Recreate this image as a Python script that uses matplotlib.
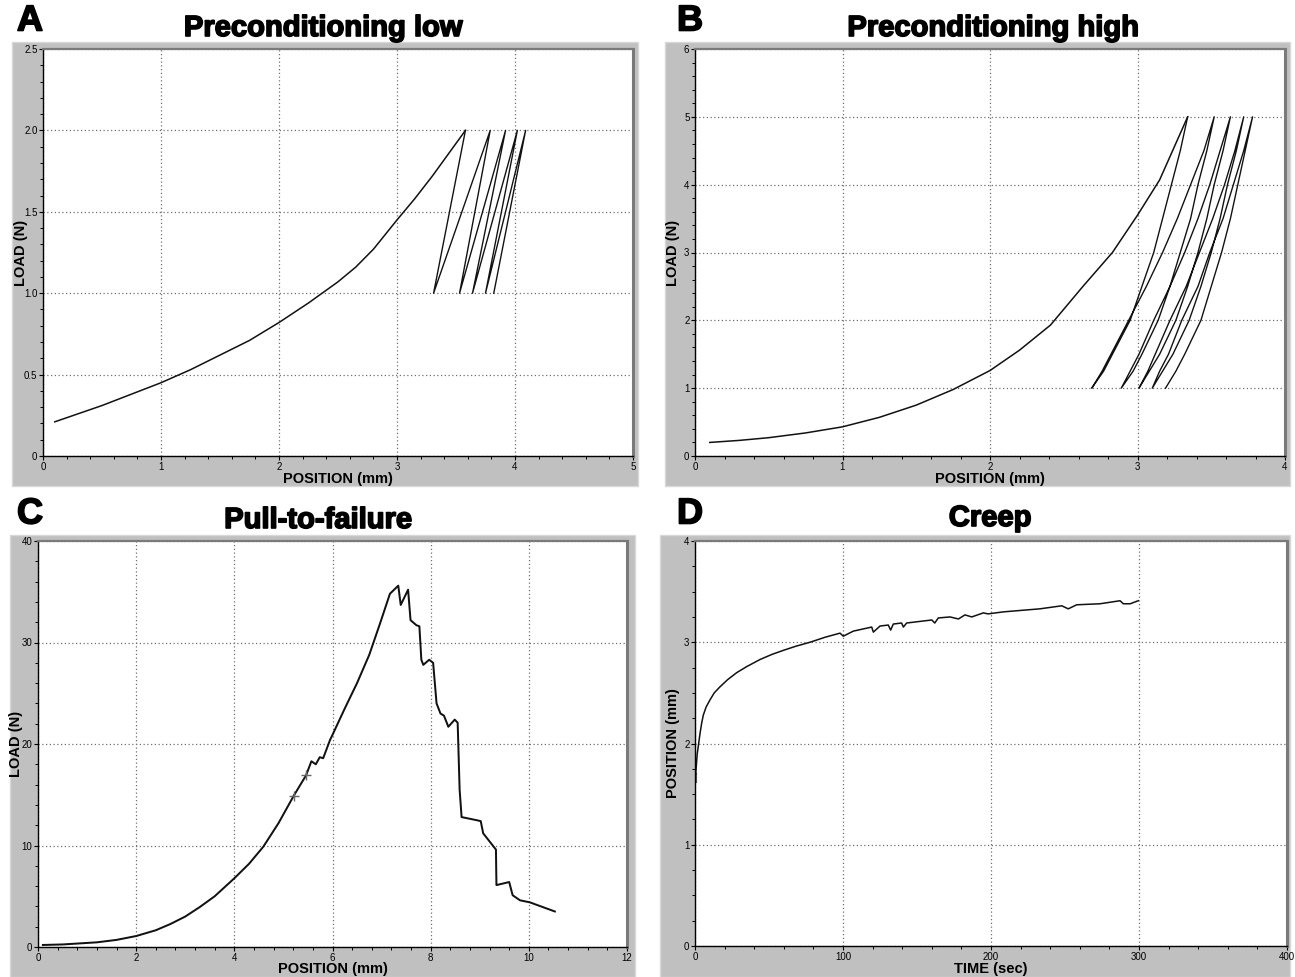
import numpy as np
import matplotlib.pyplot as plt
import matplotlib.patheffects as pe
from matplotlib.patches import Rectangle
from matplotlib.ticker import MultipleLocator

plt.rcParams['font.family'] = ['Liberation Sans', 'DejaVu Sans']

# %%
# A: preconditioning low - initial loading, then load/unload cycles between 1 and 2 N
a_load_x = [0.10, 0.30, 0.50, 0.75, 1.00, 1.25, 1.50, 1.75, 2.00, 2.25, 2.50, 2.65, 2.80, 3.00, 3.15, 3.30, 3.45, 3.58]
a_load_y = [0.21, 0.26, 0.31, 0.38, 0.45, 0.53, 0.62, 0.71, 0.82, 0.94, 1.07, 1.16, 1.27, 1.45, 1.58, 1.72, 1.87, 2.00]
a_peaks = [3.58, 3.79, 3.92, 4.02, 4.09]
a_bottoms = [3.31, 3.53, 3.64, 3.75, 3.82]

# B: preconditioning high - initial loading, then cycles between 1 and 5 N
b_load_x = [0.10, 0.30, 0.50, 0.75, 1.00, 1.25, 1.50, 1.75, 2.00, 2.20, 2.41, 2.63, 2.83, 3.00, 3.15, 3.34]
b_load_y = [0.20, 0.23, 0.27, 0.34, 0.43, 0.57, 0.75, 0.98, 1.26, 1.56, 1.93, 2.50, 3.00, 3.55, 4.07, 5.00]
b_levels = [1.0, 1.25, 1.5, 2.0, 2.5, 3.0, 3.5, 4.0, 4.5, 5.0]
b_unload = [[2.69, 2.77, 2.83, 2.95, 3.03, 3.11, 3.17, 3.23, 3.29, 3.34],
            [2.89, 2.97, 3.03, 3.14, 3.22, 3.29, 3.36, 3.41, 3.47, 3.52],
            [3.01, 3.08, 3.15, 3.26, 3.34, 3.41, 3.47, 3.52, 3.58, 3.63],
            [3.10, 3.17, 3.24, 3.35, 3.43, 3.50, 3.56, 3.61, 3.67, 3.72],
            [3.19, 3.26, 3.32, 3.43, 3.50, 3.57, 3.63, 3.68, 3.73, 3.78]]
b_reload = [[2.69, 2.76, 2.82, 2.94, 3.06, 3.17, 3.27, 3.36, 3.45, 3.52],
            [2.89, 2.95, 3.01, 3.11, 3.22, 3.32, 3.41, 3.49, 3.56, 3.63],
            [3.01, 3.07, 3.12, 3.22, 3.33, 3.42, 3.51, 3.59, 3.66, 3.72],
            [3.10, 3.15, 3.21, 3.30, 3.41, 3.49, 3.58, 3.65, 3.72, 3.78]]

# C: pull-to-failure
c_x = [0.10, 0.50, 1.20, 1.60, 2.00, 2.40, 2.70, 3.00, 3.30, 3.60, 4.00, 4.30, 4.59, 4.90, 5.21,
       5.46, 5.57, 5.66, 5.74, 5.81, 5.95, 6.00, 6.25, 6.50, 6.75, 6.97, 7.17, 7.34, 7.39, 7.54,
       7.59, 7.71, 7.77, 7.81, 7.85, 7.97, 8.05, 8.12, 8.20, 8.27, 8.36, 8.49, 8.55, 8.59, 8.63,
       8.93, 9.02, 9.07, 9.33, 9.34, 9.60, 9.67, 9.82, 10.02, 10.53]
c_y = [0.20, 0.25, 0.46, 0.70, 1.08, 1.65, 2.27, 3.00, 3.95, 5.00, 6.77, 8.20, 9.88, 12.2, 14.9,
       16.9, 18.3, 18.0, 18.7, 18.6, 20.4, 20.9, 23.5, 26.0, 28.8, 31.9, 34.8, 35.6, 33.7, 35.2,
       32.2, 31.7, 31.6, 28.3, 27.8, 28.3, 28.0, 24.0, 23.0, 22.8, 21.7, 22.4, 22.1, 15.5, 12.8,
       12.5, 12.4, 11.2, 9.6, 6.1, 6.4, 5.1, 4.6, 4.4, 3.5]
c_marks_x = [5.21, 5.46]
c_marks_y = [14.9, 16.9]

# D: creep
d_t = [0.5, 1.0, 1.5, 2.2, 3.4, 4.5, 5.6, 7.5, 10.1, 13.0, 16.9, 22.0, 28.2, 35.0, 44.0, 52.0,
       59.7, 68.0, 77.7, 88.0, 98.0, 100.2, 107.0, 119.4,
       120.5, 125.0, 130.6, 132.2, 134.0, 139.6, 140.8, 143.0, 160.0, 162.0, 164.4, 172.3, 178.0,
       182.4, 187.0, 194.8, 198.0, 208.3, 233.0, 247.8, 252.2, 257.9, 273.6, 287.2, 289.4, 294.0, 299.5]
d_pos = [1.70, 1.80, 1.90, 1.97, 2.10, 2.20, 2.28, 2.36, 2.43, 2.50, 2.56, 2.63, 2.70, 2.76, 2.83, 2.88,
         2.92, 2.96, 3.00, 3.05, 3.09, 3.06, 3.11, 3.15,
         3.10, 3.16, 3.17, 3.12, 3.18, 3.19, 3.15, 3.19, 3.22, 3.19, 3.24, 3.25, 3.23,
         3.27, 3.25, 3.29, 3.28, 3.30, 3.33, 3.36, 3.33, 3.37, 3.38, 3.41, 3.38, 3.38, 3.41]

# %%
W, H = 1295, 977
fig = plt.figure(figsize=(W / 100, H / 100), dpi=100)
fig.patch.set_facecolor('white')
heavy = [pe.withStroke(linewidth=1.2, foreground='black')]


def panel(frame, box, letter, title, title_xy, letter_xy, xlab, ylab):
    fx0, fy0, fx1, fy1 = frame
    fig.patches.append(Rectangle((fx0 / W, 1 - fy1 / H), (fx1 - fx0) / W, (fy1 - fy0) / H,
                                 transform=fig.transFigure, facecolor='#c0c0c0',
                                 edgecolor='#d8d8d8', lw=1, zorder=-10))
    x0, y0, x1, y1 = box
    ax = fig.add_axes([x0 / W, 1 - y1 / H, (x1 - x0) / W, (y1 - y0) / H])
    ax.set_zorder(5)
    ax.set_facecolor('white')
    for s in ['left', 'bottom']:
        ax.spines[s].set_color('black')
        ax.spines[s].set_linewidth(1.0)
    ax.spines['top'].set_color('#7a7a7a')
    ax.spines['top'].set_linewidth(1.6)
    ax.spines['right'].set_color('#7a7a7a')
    ax.spines['right'].set_linewidth(2.2)
    ax.grid(True, which='major', color='#707070', linestyle=(0, (1, 2)), lw=0.9)
    ax.tick_params(which='major', length=3, width=0.8, labelsize=7, pad=1)
    ax.tick_params(which='minor', length=2, width=0.7)
    ax.tick_params(axis='y', which='both', right=False)
    ax.set_xlabel(xlab, fontsize=10.5, fontweight='bold')
    ax.set_ylabel(ylab, fontsize=10.5, fontweight='bold')
    ax.xaxis.set_label_coords(0.5, -15.5 / (y1 - y0))
    ax.yaxis.set_label_coords(-15 / (x1 - x0), 0.5)
    fig.text(title_xy[0] / W, 1 - title_xy[1] / H, title, ha='center', va='center',
             fontsize=21, fontweight='bold', path_effects=heavy)
    fig.text(letter_xy[0] / W, 1 - letter_xy[1] / H, letter, ha='center', va='center',
             fontsize=26, fontweight='bold', path_effects=heavy)
    return ax


lw = 1.1
col = '#111111'

# A
ax = panel((12, 42, 638, 486), (43, 49, 633, 456), 'A', 'Preconditioning low', (323, 28), (30, 21),
           'POSITION (mm)', 'LOAD (N)')
ax.plot(a_load_x, a_load_y, color=col, lw=lw)
cx, cy = [], []
for i in range(len(a_peaks)):
    cx += [a_peaks[i], a_bottoms[i]]
    cy += [2.0, 1.0]
ax.plot(cx, cy, color=col, lw=lw * 0.9)
ax.set_xlim(0, 5)
ax.set_ylim(0, 2.5)
ax.xaxis.set_major_locator(MultipleLocator(1))
ax.xaxis.set_minor_locator(MultipleLocator(0.2))
ax.yaxis.set_minor_locator(MultipleLocator(0.1))
ax.set_yticks([0, 0.5, 1.0, 1.5, 2.0, 2.5])
ax.set_yticklabels(['0', '0.5', '1.0', '1.5', '2.0', '2.5'])

# B
ax = panel((665, 42, 1290, 486), (695, 49, 1285, 456), 'B', 'Preconditioning high', (993, 28), (690, 21),
           'POSITION (mm)', 'LOAD (N)')
ax.plot(b_load_x, b_load_y, color=col, lw=lw)
px, py = [], []
for i in range(len(b_unload)):
    px += b_unload[i][::-1]
    py += b_levels[::-1]
    if i < len(b_reload):
        px += b_reload[i]
        py += b_levels
ax.plot(px, py, color=col, lw=lw * 0.9)
ax.set_xlim(0, 4)
ax.set_ylim(0, 6)
ax.xaxis.set_major_locator(MultipleLocator(1))
ax.xaxis.set_minor_locator(MultipleLocator(0.2))
ax.yaxis.set_major_locator(MultipleLocator(1))
ax.yaxis.set_minor_locator(MultipleLocator(0.2))

# C
ax = panel((10, 535, 635, 977), (38, 541, 627, 947), 'C', 'Pull-to-failure', (318, 520), (30, 514),
           'POSITION (mm)', 'LOAD (N)')
ax.plot(c_x, c_y, color=col, lw=lw * 1.3)
ax.plot(c_marks_x, c_marks_y, ls='none', marker='+', ms=7, mew=1.0, color='#666666')
ax.set_xlim(0, 12)
ax.set_ylim(0, 40)
ax.xaxis.set_major_locator(MultipleLocator(2))
ax.xaxis.set_minor_locator(MultipleLocator(0.4))
ax.yaxis.set_major_locator(MultipleLocator(10))
ax.yaxis.set_minor_locator(MultipleLocator(2))

# D
ax = panel((660, 535, 1290, 977), (695, 541, 1287, 946), 'D', 'Creep', (990, 518), (690, 514),
           'TIME (sec)', 'POSITION (mm)')
ax.plot([0.5, 0.5], [1.62, 1.70], color='#555555', lw=lw * 1.4)
ax.plot(d_t, d_pos, color=col, lw=lw)
ax.set_xlim(0, 400)
ax.set_ylim(0, 4)
ax.xaxis.set_major_locator(MultipleLocator(100))
ax.xaxis.set_minor_locator(MultipleLocator(20))
ax.yaxis.set_major_locator(MultipleLocator(1))
ax.yaxis.set_minor_locator(MultipleLocator(0.25))

fig.savefig('out.png', dpi=100)
